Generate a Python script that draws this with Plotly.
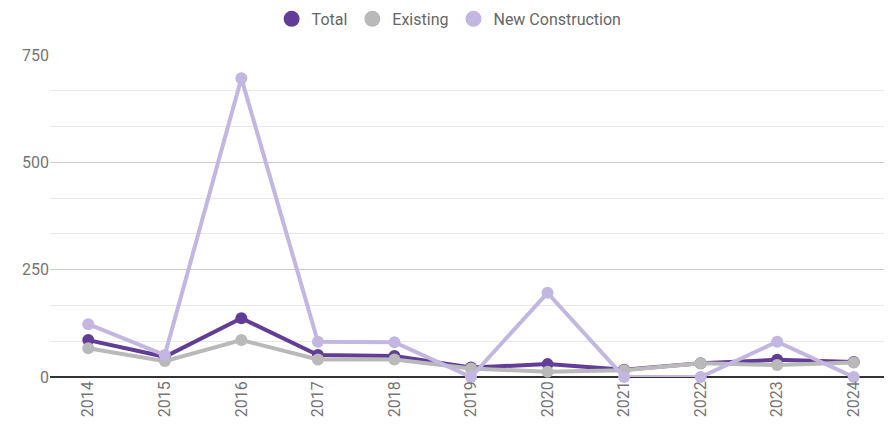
import plotly.graph_objects as go

years = ["2014", "2015", "2016", "2017", "2018", "2019",
         "2020", "2021", "2022", "2023", "2024"]
total = [86, 47, 137, 51, 49, 22, 30, 17, 32, 40, 35]
existing = [67, 37, 86, 41, 41, 20, 12, 16, 32, 28, 34]
new_construction = [123, 51, 696, 82, 81, 0, 196, 0, 0, 82, 0]

series = [
    ("Total", total, "#623d97"),
    ("Existing", existing, "#b9b9b9"),
    ("New Construction", new_construction, "#c3b6e0"),
]

fig = go.Figure()

for name, values, color in series:
    fig.add_trace(go.Scatter(
        x=years,
        y=values,
        mode="lines+markers",
        name=name,
        line=dict(color=color, width=4),
        marker=dict(color=color, size=12),
        cliponaxis=False,
        showlegend=False
    ))

# legend entries: plain circles only
for name, values, color in series:
    fig.add_trace(go.Scatter(
        x=[None],
        y=[None],
        mode="markers",
        name=name,
        marker=dict(color=color, size=16),
        showlegend=True
    ))

# page body has an 8px margin, so the figure is sized to fit inside it
fig.update_layout(
    width=884,
    height=416,
    plot_bgcolor="white",
    paper_bgcolor="white",
    font=dict(family="Roboto", size=16, color="#757575"),
    margin=dict(t=47, b=47, l=42, r=0, autoexpand=False),
    legend=dict(
        orientation="h",
        x=0.474,
        xanchor="center",
        y=1.112,
        yanchor="middle",
        font=dict(size=16, color="#666666")
    ),
    xaxis=dict(
        type="category",
        range=[-0.5, 10.5],
        tickangle=-90,
        showgrid=False,
        ticks="",
        showline=False
    ),
    yaxis=dict(
        range=[0, 750],
        tickvals=[0, 250, 500, 750],
        showgrid=True,
        gridcolor="#cccccc",
        gridwidth=1,
        zeroline=True,
        zerolinecolor="#333333",
        zerolinewidth=1.5,
        ticks="",
        minor=dict(dtick=250 / 3, tick0=0, showgrid=True,
                   gridcolor="#e8e8e8", gridwidth=1)
    )
)

fig.write_html("out.html")
